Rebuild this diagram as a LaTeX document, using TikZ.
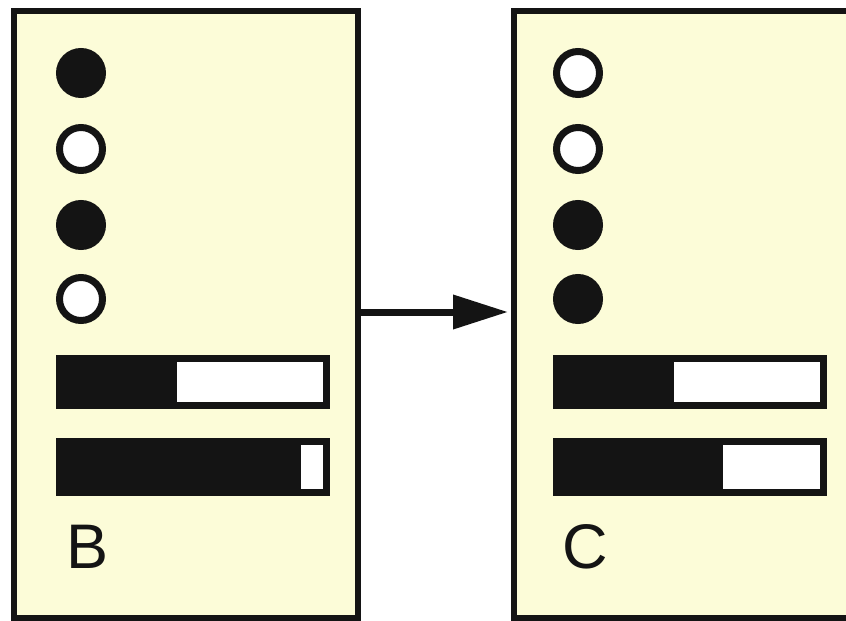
\documentclass[tikz,border=0pt]{standalone}
\usepackage{fontspec}
\setmainfont{Liberation Sans}
\usetikzlibrary{arrows.meta}
\definecolor{paper}{RGB}{252,252,216}
\definecolor{ink}{RGB}{20,20,20}
\tikzset{
  x=1pt, y=-1pt,
  panel/.style={draw=ink, line width=6pt, fill=paper, rectangle, inner sep=0pt},
  dotfull/.style={circle, draw=ink, fill=ink, line width=7pt, minimum size=43pt, inner sep=0pt},
  dotempty/.style={circle, draw=ink, fill=white, line width=7pt, minimum size=43pt, inner sep=0pt},
  bar/.style={draw=ink, line width=7pt, fill=white, rectangle, inner sep=0pt,
    minimum width=267pt, anchor=north west,
    path picture={\fill[ink] (path picture bounding box.south west) rectangle ([xshift=#1pt]path picture bounding box.north west);}},
  lab/.style={anchor=base west, inner sep=0pt, font=\fontsize{63}{63}\selectfont, text=ink},
  conn/.style={draw=ink, line width=7pt, -{Triangle[length=55pt,width=33pt]}, shorten >=3pt}
}
\begin{document}
\begin{tikzpicture}
\path[use as bounding box, clip] (0,0) rectangle (846,621);
\fill[white] (0,0) rectangle (846,621);
% panels
\node[panel, minimum width=344pt, minimum height=607pt] (L) at (186,314.5) {};
\node[panel, minimum width=386pt, minimum height=607pt] (R) at (707,314.5) {};
% left dots
\node[dotfull]  (l1) at (81,73) {};
\node[dotempty] (l2) at (81,149) {};
\node[dotfull]  (l3) at (81,225) {};
\node[dotempty] (l4) at (81,299) {};
% right dots
\node[dotempty] (r1) at (578,73) {};
\node[dotempty] (r2) at (578,149) {};
\node[dotfull]  (r3) at (578,225) {};
\node[dotfull]  (r4) at (578,299) {};
% bars
\node[bar=117.5, minimum height=47pt] (lb1) at (56,355) {};
\node[bar=241.5, minimum height=51pt] (lb2) at (56,438) {};
\node[bar=117.5, minimum height=47pt] (rb1) at (553,355) {};
\node[bar=166.5, minimum height=51pt] (rb2) at (553,438) {};
% labels
\node[lab] (tb) at (66,568) {B};
\node[lab] (tc) at (562,568) {C};
% connector
\draw[conn] ([yshift=2.5pt]L.east) -- ([yshift=2.5pt]R.west);
\end{tikzpicture}
\end{document}
